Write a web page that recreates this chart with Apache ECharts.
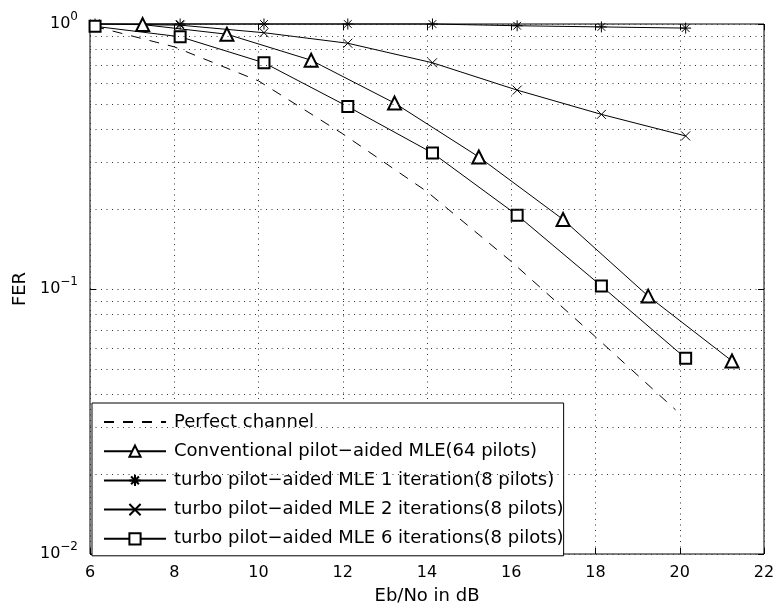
<!DOCTYPE html>
<html>
<head>
<meta charset="utf-8">
<script src="https://cdn.jsdelivr.net/npm/echarts@6/dist/echarts.min.js"></script>
<style>
  html, body { margin: 0; padding: 0; background: #fff; }
  #chart { width: 778px; height: 612px; }
</style>
</head>
<body>
<div id="chart"></div>
<script>
// Eb/No (dB) positions
const perfectX = [6.1, 8, 10, 12, 14, 16, 18, 19.9];
const perfectY = [0.98, 0.82, 0.61, 0.385, 0.233, 0.127, 0.066, 0.035];

const convX = [7.25, 9.25, 11.25, 13.23, 15.23, 17.23, 19.25, 21.24];
const convY = [0.995, 0.915, 0.73, 0.503, 0.315, 0.183, 0.094, 0.0535];

const turboX = [6.12, 8.14, 10.13, 12.12, 14.13, 16.14, 18.14, 20.14];
const iter1Y = [1.0, 1.0, 1.0, 1.0, 1.0, 0.985, 0.975, 0.965];
const iter2Y = [1.0, 0.99, 0.927, 0.846, 0.714, 0.563, 0.456, 0.378];
const iter6Y = [0.98, 0.895, 0.714, 0.488, 0.326, 0.19, 0.1026, 0.0548];

const minorGrid = [0.02, 0.03, 0.04, 0.05, 0.06, 0.07, 0.08, 0.09,
                   0.2, 0.3, 0.4, 0.5, 0.6, 0.7, 0.8, 0.9];

const names = [
  'Perfect channel',
  'Conventional pilot\u2212aided MLE(64 pilots)',
  'turbo pilot\u2212aided MLE 1 iteration(8 pilots)',
  'turbo pilot\u2212aided MLE 2 iterations(8 pilots)',
  'turbo pilot\u2212aided MLE 6 iterations(8 pilots)'
];

const STAR = 'path://M5 0L5 10M0 5L10 5M1.5 1.5L8.5 8.5M8.5 1.5L1.5 8.5';
const CROSS = 'path://M0 0L10 10M10 0L0 10';
const FONT = '"DejaVu Sans", "Liberation Sans", sans-serif';

const zip = (xs, ys) => xs.map((x, i) => [x, ys[i]]);
const dotted = { color: '#333', width: 1, type: [1, 4.5] };

function lineSeries(name, data, symbol, size, extra) {
  return Object.assign({
    name,
    type: 'line',
    data,
    symbol,
    symbolSize: size,
    clip: false,
    animation: false,
    lineStyle: { color: '#000', width: 1 },
    itemStyle: { color: '#000', borderColor: '#000', borderWidth: 1 }
  }, extra || {});
}

const chart = echarts.init(document.getElementById('chart'), null, { renderer: 'canvas' });

chart.setOption({
  backgroundColor: '#fff',
  textStyle: { fontFamily: FONT },
  grid: {
    left: 90, right: 14, top: 24, bottom: 58,
    show: true, borderColor: '#000', borderWidth: 1, backgroundColor: 'transparent'
  },
  legend: {
    orient: 'vertical',
    left: 92,
    top: 403,
    data: names,
    itemWidth: 62,
    itemHeight: 14,
    itemGap: 11.2,
    padding: [10, 0, 8, 11],
    backgroundColor: '#fff',
    borderColor: '#000',
    borderWidth: 1,
    textStyle: { fontSize: 18, color: '#000', fontFamily: FONT, padding: [0, 0, 0, 3] }
  },
  xAxis: [{
    type: 'value',
    min: 6, max: 22, interval: 2,
    name: 'Eb/No in dB',
    nameLocation: 'middle',
    nameGap: 33,
    nameTextStyle: { fontSize: 18, color: '#000', fontFamily: FONT },
    axisLine: { show: false },
    axisTick: { inside: true, length: 6, lineStyle: { color: '#000' } },
    axisLabel: { fontSize: 16, color: '#000', margin: 11, fontFamily: FONT },
    splitLine: { show: true, lineStyle: dotted }
  }, {
    type: 'value',
    position: 'top',
    min: 6, max: 22, interval: 2,
    axisLine: { show: false },
    axisTick: { inside: true, length: 6, lineStyle: { color: '#000' } },
    axisLabel: { show: false },
    splitLine: { show: false }
  }],
  yAxis: [{
    type: 'log',
    logBase: 10,
    min: 0.01, max: 1,
    name: 'FER',
    nameLocation: 'middle',
    nameGap: 56,
    nameTextStyle: { fontSize: 18, color: '#000', fontFamily: FONT },
    axisLine: { show: false },
    axisTick: { inside: true, length: 6, lineStyle: { color: '#000' } },
    axisLabel: {
      margin: 12,
      formatter: v => '{b|10}{s|' + Math.round(Math.log10(v)).toString().replace('-', '\u2212') + '}',
      rich: {
        b: { fontSize: 16, color: '#000', fontFamily: FONT },
        s: { fontSize: 12, color: '#000', fontFamily: FONT, padding: [0, 0, 14, 0] }
      }
    },
    splitLine: { show: true, lineStyle: dotted }
  }, {
    type: 'log',
    logBase: 10,
    min: 0.01, max: 1,
    position: 'right',
    axisLine: { show: false },
    axisTick: { inside: true, length: 6, lineStyle: { color: '#000' } },
    axisLabel: { show: false },
    splitLine: { show: false }
  }],
  series: [
    lineSeries(names[0], zip(perfectX, perfectY), 'circle', 0, {
      showSymbol: false,
      lineStyle: { color: '#000', width: 1, type: [10, 9] },
      itemStyle: { color: 'transparent', borderWidth: 0 },
      markLine: {
        silent: true,
        symbol: 'none',
        animation: false,
        label: { show: false },
        lineStyle: dotted,
        data: minorGrid.map(v => ({ yAxis: v }))
      }
    }),
    lineSeries(names[1], zip(convX, convY), 'emptyTriangle', 13),
    lineSeries(names[2], zip(turboX, iter1Y), STAR, 11),
    lineSeries(names[3], zip(turboX, iter2Y), CROSS, 9),
    lineSeries(names[4], zip(turboX, iter6Y), 'emptyRect', 11)
  ]
});
</script>
</body>
</html>
